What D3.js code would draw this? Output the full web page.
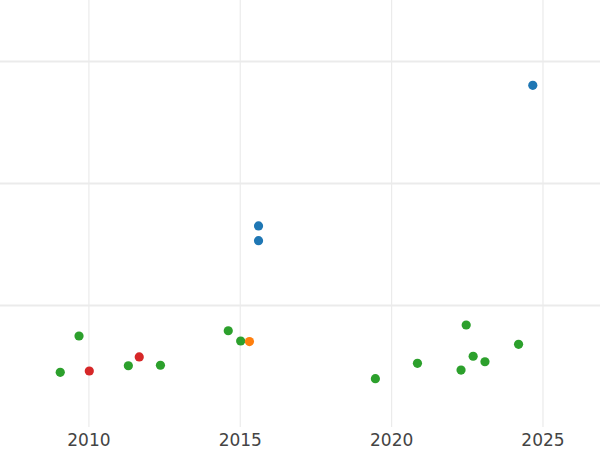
<!DOCTYPE html>
<html>
<head>
<meta charset="utf-8">
<script src="https://cdn.jsdelivr.net/npm/d3@7"></script>
<style>
  html, body { margin: 0; padding: 0; background: #fff; }
  svg { display: block; }
</style>
</head>
<body>
<svg id="chart" width="600" height="450"></svg>
<script>
// Data (year, value) per group
const blueX   = [2024.68, 2015.62, 2015.62];
const blueY   = [2.801, 1.648, 1.527];
const greenX  = [2009.07, 2009.69, 2011.32, 2012.38, 2014.62, 2015.03, 2019.48, 2020.87, 2022.31, 2022.48, 2022.71, 2023.10, 2024.21];
const greenY  = [0.448, 0.746, 0.502, 0.506, 0.789, 0.705, 0.396, 0.522, 0.467, 0.836, 0.580, 0.535, 0.678];
const redX    = [2010.03, 2011.68];
const redY    = [0.459, 0.574];
const orangeX = [2015.32];
const orangeY = [0.700];
const xTicks  = [2010, 2015, 2020, 2025];
const yTicks  = [1, 2, 3];

const groups = [
  { xs: blueX,   ys: blueY,   color: "#1f77b4" },
  { xs: greenX,  ys: greenY,  color: "#2ca02c" },
  { xs: redX,    ys: redY,    color: "#d62728" },
  { xs: orangeX, ys: orangeY, color: "#ff7f0e" }
];

const W = 600, plotBottom = 427;
const svg = d3.select("#chart");

const x = d3.scaleLinear().domain([2007.08, 2026.9]).range([0, W]);
const y = d3.scaleLinear().domain([0, 3.5]).range([plotBottom, 0]);

// Vertical grid
const gx = svg.append("g").attr("transform", `translate(0,${plotBottom})`)
  .call(d3.axisBottom(x).tickValues(xTicks).tickSize(-plotBottom).tickFormat("").tickSizeOuter(0));
gx.select(".domain").remove();
gx.selectAll("line").attr("stroke", "#ebebeb").attr("stroke-width", 1.2);

// Horizontal grid
const gy = svg.append("g")
  .call(d3.axisLeft(y).tickValues(yTicks).tickSize(-W).tickFormat("").tickSizeOuter(0));
gy.select(".domain").remove();
gy.selectAll("line").attr("stroke", "#ebebeb").attr("stroke-width", 2);

// X tick labels
const gl = svg.append("g").attr("transform", `translate(0,${plotBottom})`)
  .call(d3.axisBottom(x).tickValues(xTicks).tickSize(0).tickPadding(7).tickFormat(d3.format("d")));
gl.select(".domain").remove();
gl.selectAll("text")
  .attr("fill", "#444")
  .style("font-family", "'DejaVu Sans', sans-serif")
  .style("font-size", "17px");

// Points
groups.forEach(g => {
  svg.append("g").selectAll("circle")
    .data(g.xs.map((v, i) => [v, g.ys[i]]))
    .join("circle")
    .attr("cx", d => x(d[0]))
    .attr("cy", d => y(d[1]))
    .attr("r", 4.6)
    .attr("fill", g.color);
});
</script>
</body>
</html>
